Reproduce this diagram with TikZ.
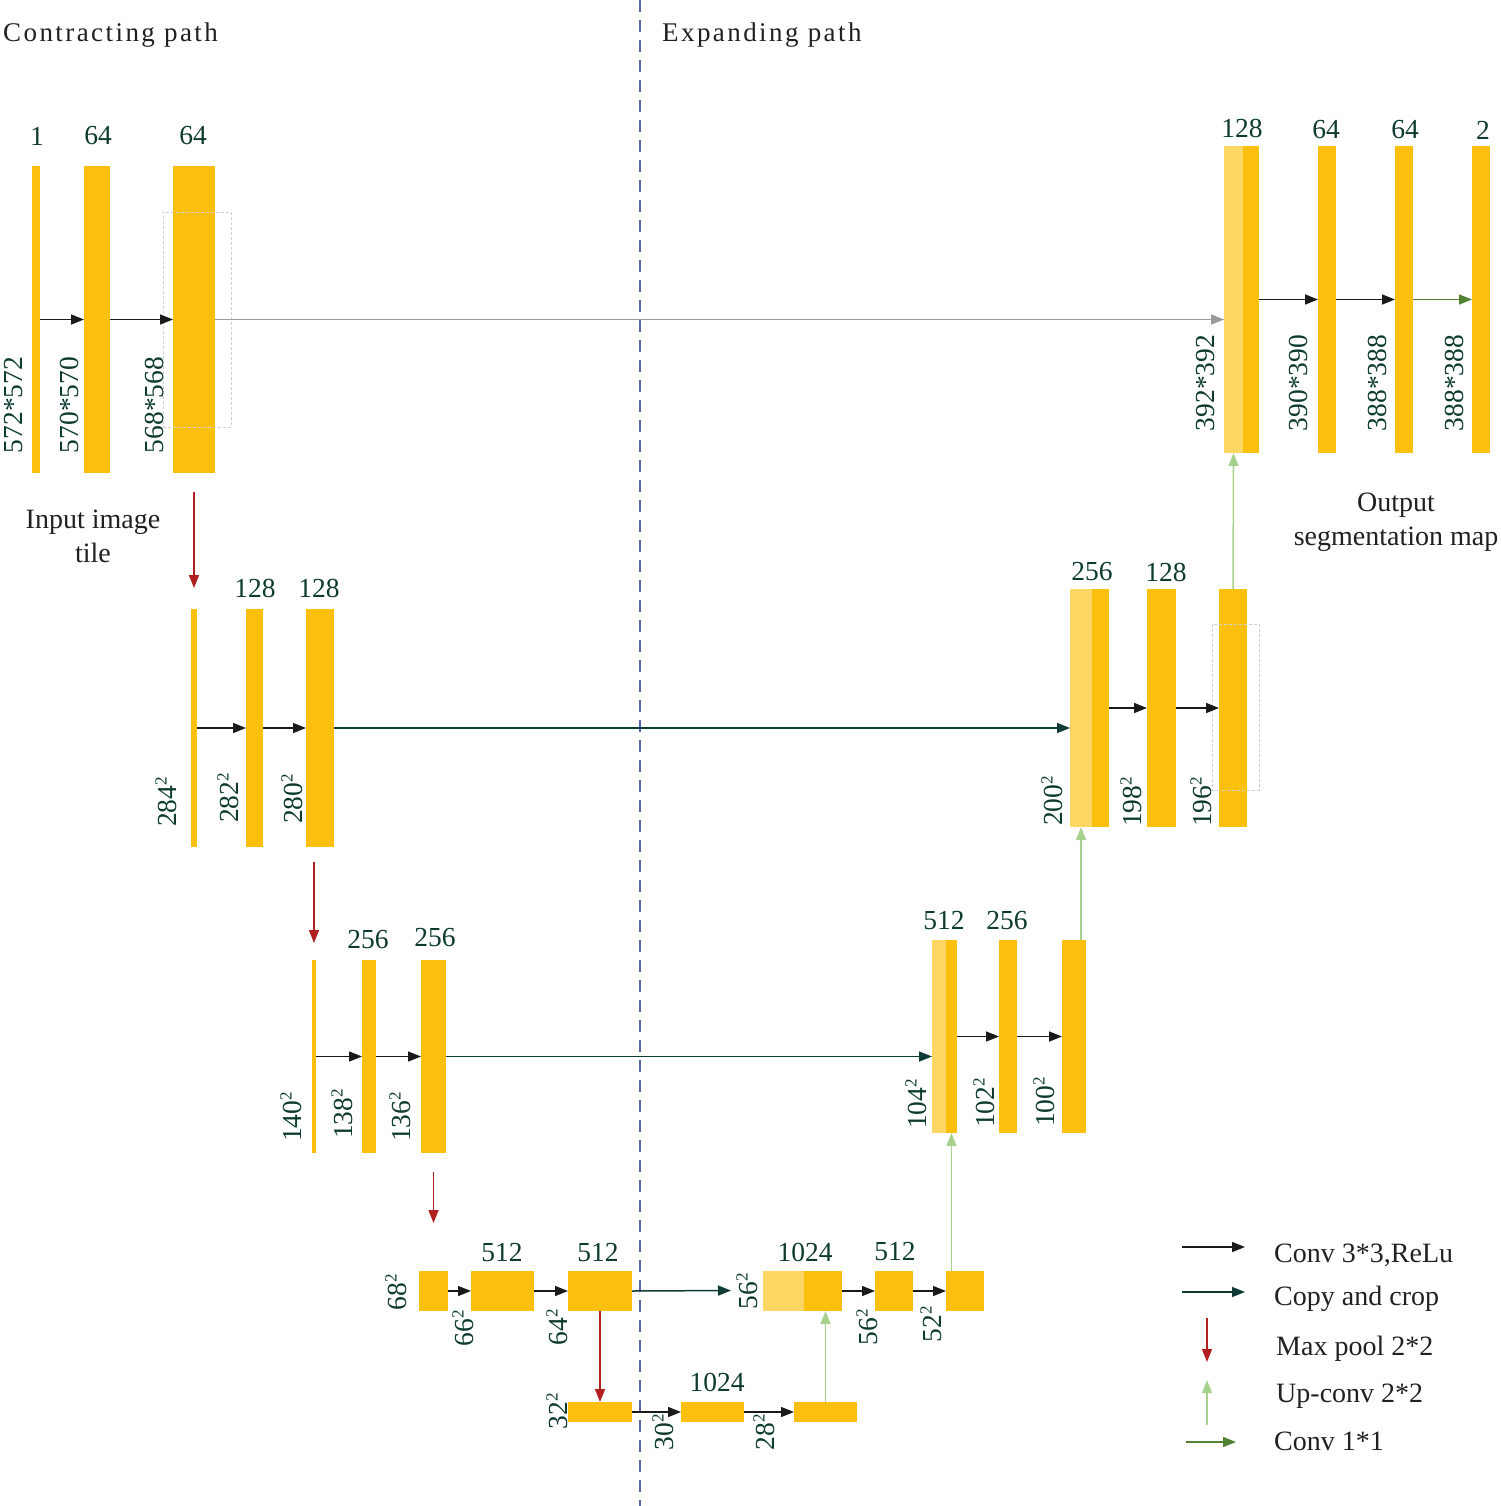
\documentclass[tikz,border=0pt]{standalone}
\usepackage{fontspec}
\setmainfont{Liberation Serif}
\newfontfamily\titlefont[LetterSpace=9]{Liberation Serif}
\usetikzlibrary{arrows.meta}
\definecolor{barc}{HTML}{FBBF0E}
\definecolor{lbarc}{HTML}{FDD663}
\definecolor{numc}{HTML}{0D3B30}
\definecolor{txtc}{HTML}{231F20}
\definecolor{convc}{HTML}{1A1A1A}
\definecolor{copyc}{HTML}{0F3B35}
\definecolor{grayc}{HTML}{9A9A9A}
\definecolor{poolc}{HTML}{B21F1F}
\definecolor{upc}{HTML}{A9D18E}
\definecolor{greenc}{HTML}{548235}
\definecolor{dashc}{HTML}{5468B0}
\definecolor{cropc}{HTML}{D0D0D0}
\newcommand\sqr{\raisebox{0.36em}{\fontsize{17}{17}\selectfont 2}}
\tikzset{
  bar/.style={fill=barc, draw=none, inner sep=0pt, outer sep=0pt},
  lbar/.style={fill=lbarc, draw=none, inner sep=0pt, outer sep=0pt},
  cropbox/.style={draw=cropc, densely dashed, line width=0.7pt, fill=none, inner sep=0pt, outer sep=0pt},
  num/.style={text=numc, font=\fontsize{27.5}{30}\selectfont, inner sep=0pt},
  rnum/.style={num, rotate=90},
  txt/.style={text=txtc, font=\fontsize{28}{34}\selectfont, inner sep=0pt},
  ttl/.style={text=txtc, font=\titlefont\fontsize{27}{30}\selectfont, inner sep=0pt},
  tip/.style={-{Triangle[length=13pt,width=10pt]}, line width=1.5pt},
  conv/.style={tip, draw=convc},
  copyarr/.style={tip, draw=copyc},
  copygray/.style={tip, draw=grayc},
  pool/.style={tip, draw=poolc},
  upconv/.style={tip, draw=upc},
  convone/.style={tip, draw=greenc},
}
\newcommand\bx[6][bar]{\node[#1, minimum width={(#5-#3)*1pt}, minimum height={(#6-#4)*1pt}] (#2) at ({(#3+#5)/2},{(#4+#6)/2}) {};}
\begin{document}
\begin{tikzpicture}[x=1pt,y=-1pt]
\useasboundingbox (0,0) rectangle (1500,1506);
% divider
\coordinate (dtop) at (640,0);
\coordinate (dbot) at (640,1506);
\draw[dashc, line width=1.2pt, dash pattern=on 12pt off 8pt] (dtop) -- (dbot);
% titles
\node[ttl, anchor=base west] (t1) at (3,42) {Contracting path};
\node[ttl, anchor=base west] (t2) at (662,42) {Expanding path};
% ---- contracting row 1
\bx{c11}{32}{166}{40}{473}
\bx{c12}{84}{166}{110}{473}
\bx{c13}{173}{166}{215}{473}
\bx[cropbox]{k1}{163}{212}{231}{427}
\node[num] (n11) at (37,136) {1};
\node[num] (n12) at (98,136) {64};
\node[num] (n13) at (193,136) {64};
\node[rnum] (s11) at (14,405) {572*572};
\node[rnum] (s12) at (69,405) {570*570};
\node[rnum] (s13) at (154,405) {568*568};
\node[txt, align=center, anchor=base] (inp) at (93,562) {Input image\\tile};
% ---- contracting row 2
\bx{c21}{191}{609}{197}{847}
\bx{c22}{246}{609}{263}{847}
\bx{c23}{306}{609}{334}{847}
\node[num] (n22) at (255,588) {128};
\node[num] (n23) at (319,588) {128};
\node[rnum] (s21) at (166,802) {284\sqr};
\node[rnum] (s22) at (228,798) {282\sqr};
\node[rnum] (s23) at (292,799) {280\sqr};
% ---- contracting row 3
\bx{c31}{312}{960}{316}{1153}
\bx{c32}{362}{960}{376}{1153}
\bx{c33}{421}{960}{446}{1153}
\node[num] (n32) at (368,940) {256};
\node[num] (n33) at (435,938) {256};
\node[rnum] (s31) at (291,1117) {140\sqr};
\node[rnum] (s32) at (342,1114) {138\sqr};
\node[rnum] (s33) at (400,1117) {136\sqr};
% ---- row 4
\bx{c41}{419}{1271}{448}{1311}
\bx{c42}{471}{1271}{534}{1311}
\bx{c43}{568}{1271}{632}{1311}
\node[num] (n42) at (502,1253) {512};
\node[num] (n43) at (598,1253) {512};
\node[rnum] (s41) at (396,1292) {68\sqr};
\node[rnum] (s42) at (463,1328) {66\sqr};
\node[rnum] (s43) at (557,1327) {64\sqr};
% ---- bottom row
\bx{b51}{568}{1402}{632}{1422}
\bx{b52}{681}{1402}{744}{1422}
\bx{b53}{794}{1402}{857}{1422}
\node[num] (n52) at (717,1382) {1024};
\node[rnum] (s51) at (557,1411) {32\sqr};
\node[rnum] (s52) at (663,1432) {30\sqr};
\node[rnum] (s53) at (764,1432) {28\sqr};
% ---- expanding row 4
\bx[lbar]{u4l}{763}{1271}{804}{1311}
\bx{u4d}{804}{1271}{842}{1311}
\bx{r42}{875}{1271}{913}{1311}
\bx{r43}{946}{1271}{984}{1311}
\node[num] (n44) at (805,1252) {1024};
\node[num] (n45) at (895,1252) {512};
\node[rnum] (s44) at (747,1291) {56\sqr};
\node[rnum] (s45) at (867,1327) {56\sqr};
\node[rnum] (s46) at (931,1324) {52\sqr};
% ---- expanding row 3
\bx[lbar]{u3l}{932}{940}{946}{1133}
\bx{u3d}{946}{940}{957}{1133}
\bx{r32}{999}{940}{1017}{1133}
\bx{r33}{1062}{940}{1086}{1133}
\node[num] (n34) at (944,921) {512};
\node[num] (n35) at (1007,921) {256};
\node[rnum] (s34) at (916,1104) {104\sqr};
\node[rnum] (s35) at (984,1103) {102\sqr};
\node[rnum] (s36) at (1044,1102) {100\sqr};
% ---- expanding row 2
\bx[lbar]{u2l}{1070}{589}{1092}{827}
\bx{u2d}{1092}{589}{1109}{827}
\bx{r22}{1147}{589}{1176}{827}
\bx{r23}{1219}{589}{1247}{827}
\bx[cropbox]{k2}{1212}{624}{1259}{790}
\node[num] (n24) at (1092,572) {256};
\node[num] (n25) at (1166,572) {128};
\node[rnum] (s24) at (1052,801) {200\sqr};
\node[rnum] (s25) at (1131,802) {198\sqr};
\node[rnum] (s26) at (1201,802) {196\sqr};
% ---- expanding row 1
\bx[lbar]{u1l}{1224}{146}{1243}{453}
\bx{u1d}{1243}{146}{1259}{453}
\bx{r12}{1318}{146}{1336}{453}
\bx{r13}{1395}{146}{1413}{453}
\bx{r14}{1472}{146}{1490}{453}
\node[num] (n14) at (1242,128) {128};
\node[num] (n15) at (1326,130) {64};
\node[num] (n16) at (1405,130) {64};
\node[num] (n17) at (1483,130) {2};
\node[rnum] (s14) at (1206,383) {392*392};
\node[rnum] (s15) at (1298,383) {390*390};
\node[rnum] (s16) at (1377,383) {388*388};
\node[rnum] (s17) at (1454,383) {388*388};
\node[txt, align=center, anchor=base] (outp) at (1396,545) {Output\\segmentation map};
% ---- conv arrows
\draw[conv] (c11) -- (c12);
\draw[conv] (c12) -- (c13);
\draw[conv] (c21) -- (c22);
\draw[conv] (c22) -- (c23);
\draw[conv] (c31) -- (c32);
\draw[conv] (c32) -- (c33);
\draw[conv] (c41) -- (c42);
\draw[conv] (c42) -- (c43);
\draw[conv] (b51) -- (b52);
\draw[conv] (b52) -- (b53);
\draw[conv] (u4d) -- (r42);
\draw[conv] (r42) -- (r43);
\draw[conv] (u3d) -- (r32);
\draw[conv] (r32) -- (r33);
\draw[conv] (u2d) -- (r22);
\draw[conv] (r22) -- (r23);
\draw[conv] (u1d) -- (r12);
\draw[conv] (r12) -- (r13);
\draw[convone] (r13) -- (r14);
% ---- copy and crop
\draw[copygray] (c13.east) -- (c13.east -| u1l.west);
\draw[copyarr] (c23.east) -- (c23.east -| u2l.west);
\draw[copyarr] (c33.east) -- (c33.east -| u3l.west);
\coordinate (cp4) at (731,1290.5);
\draw[copyarr] (c43.east) -- (cp4);
% ---- max pool
\draw[pool] ([yshift=-19pt]c13.south) -- ([yshift=21pt]c21.north);
\draw[pool] ([yshift=-15pt]c23.south -| c31.north) -- ([yshift=17pt]c31.north);
\draw[pool] ([yshift=-19pt]c33.south) -- ([yshift=48pt]c41.north);
\draw[pool] (c43.south) -- (b51.north);
% ---- up-conv
\draw[upconv] (b53.north) -- (b53.north |- u4d.south);
\draw[upconv] (r43.north -| u3d.south) -- (u3d.south);
\draw[upconv] (r33.north -| u2l.south) -- (u2l.south);
\draw[upconv] (r23.north) -- (u1l.south);
% ---- legend
\coordinate (la1) at (1182,1247); \coordinate (lb1) at (1245,1247);
\coordinate (la2) at (1182,1292); \coordinate (lb2) at (1245,1292);
\coordinate (la3) at (1207,1318); \coordinate (lb3) at (1207,1362);
\coordinate (la4) at (1207,1425); \coordinate (lb4) at (1207,1380);
\coordinate (la5) at (1186,1442); \coordinate (lb5) at (1236,1442);
\draw[conv] (la1) -- (lb1);
\draw[copyarr] (la2) -- (lb2);
\draw[pool] (la3) -- (lb3);
\draw[upconv] (la4) -- (lb4);
\draw[convone] (la5) -- (lb5);
\node[txt, anchor=base west] (lt1) at (1274,1262) {Conv 3*3,ReLu};
\node[txt, anchor=base west] (lt2) at (1274,1305) {Copy and crop};
\node[txt, anchor=base west] (lt3) at (1276,1355) {Max pool 2*2};
\node[txt, anchor=base west] (lt4) at (1276,1402) {Up-conv 2*2};
\node[txt, anchor=base west] (lt5) at (1274,1450) {Conv 1*1};
\end{tikzpicture}
\end{document}
